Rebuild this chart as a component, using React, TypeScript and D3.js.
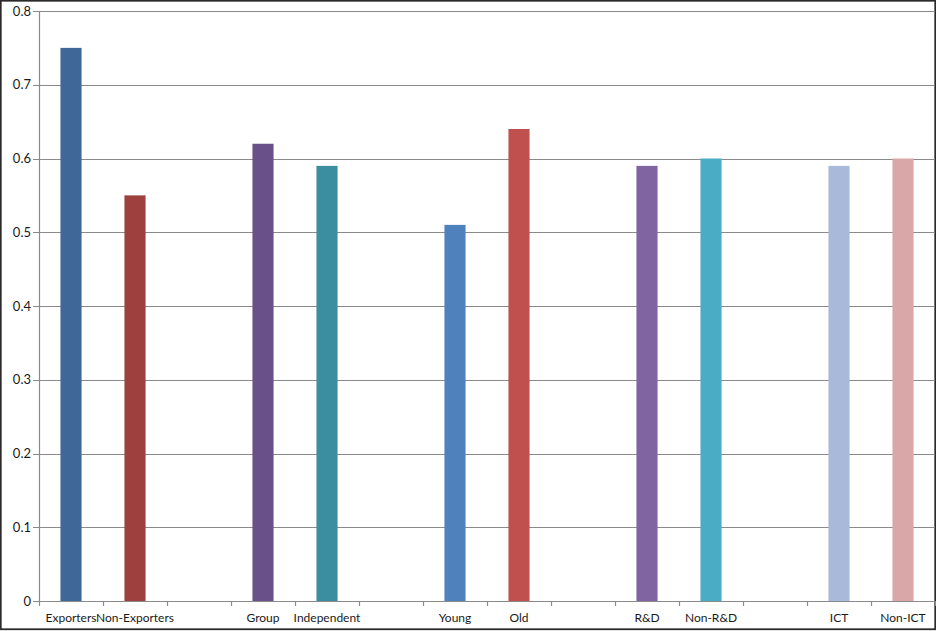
import React, { useEffect, useRef } from "react";
import * as d3 from "d3";

// one slot per category; blank slots separate the groups
const categories = [
  "Exporters", "Non-Exporters", "",
  "Group", "Independent", "",
  "Young", "Old", "",
  "R&D", "Non-R&D", "",
  "ICT", "Non-ICT",
];
const values: (number | null)[] = [
  0.75, 0.55, null,
  0.62, 0.59, null,
  0.51, 0.64, null,
  0.59, 0.6, null,
  0.59, 0.6,
];
const colors = [
  "#3f6899", "#9e413e", "none",
  "#6a5088", "#3a8ea0", "none",
  "#4f81bd", "#c0504d", "none",
  "#8064a2", "#4bacc6", "none",
  "#a9b9d9", "#d9a7a7",
];
const yTicks = [0, 0.1, 0.2, 0.3, 0.4, 0.5, 0.6, 0.7, 0.8];

const W = 936;
const H = 631;
const FONT = "Lato, 'Open Sans', sans-serif";

const App = () => {
  const svgRef = useRef<SVGSVGElement>(null);

  useEffect(() => {
    const svg = d3.select(svgRef.current);
    svg.selectAll("*").remove();

    const left = 39, right = 935, top = 11, bottom = 601;
    const idx = categories.map((_, i) => i);

    const x = d3.scaleBand<number>().domain(idx).range([left, right]).paddingInner(0.67).paddingOuter(0.335);
    const slot = d3.scaleBand<number>().domain(idx).range([left, right]);
    const y = d3.scaleLinear().domain([0, 0.8]).range([bottom, top]);

    // outer frame
    svg.append("rect")
      .attr("x", 0.75).attr("y", 0.75).attr("width", W - 1.5).attr("height", H - 2.5)
      .attr("fill", "white").attr("stroke", "#2a2a2a").attr("stroke-width", 1.8);

    // gridlines
    svg.append("g").selectAll("line")
      .data(yTicks.filter((t) => t > 0))
      .join("line")
      .attr("x1", left - 6).attr("x2", right)
      .attr("y1", (d) => Math.round(y(d)) + 0.5).attr("y2", (d) => Math.round(y(d)) + 0.5)
      .attr("stroke", "#8a8a8a").attr("stroke-width", 1.2);

    // y labels
    svg.append("g").selectAll("text")
      .data(yTicks)
      .join("text")
      .attr("x", 31).attr("y", (d) => y(d))
      .attr("dy", "0.35em")
      .attr("text-anchor", "end")
      .attr("font-family", FONT)
      .attr("font-size", 13)
      .attr("fill", "#1a1a1a")
      .text((d) => d3.format(".1~f")(d));

    // bars
    svg.append("g").selectAll("rect")
      .data(idx.filter((i) => values[i] !== null))
      .join("rect")
      .attr("x", (i) => x(i)!)
      .attr("width", x.bandwidth())
      .attr("y", (i) => y(values[i]!))
      .attr("height", (i) => bottom - y(values[i]!))
      .attr("fill", (i) => colors[i]);

    // axes lines
    svg.append("line")
      .attr("x1", left + 0.5).attr("x2", left + 0.5).attr("y1", top).attr("y2", bottom)
      .attr("stroke", "#8a8a8a").attr("stroke-width", 1.2);
    svg.append("line")
      .attr("x1", left - 6).attr("x2", right).attr("y1", bottom + 0.5).attr("y2", bottom + 0.5)
      .attr("stroke", "#8a8a8a").attr("stroke-width", 1.2);

    // x tick marks at slot boundaries
    const bounds = idx.map((i) => slot(i)!).concat([right]);
    svg.append("g").selectAll("line")
      .data(bounds)
      .join("line")
      .attr("x1", (d) => Math.round(d) + 0.5).attr("x2", (d) => Math.round(d) + 0.5)
      .attr("y1", bottom).attr("y2", bottom + 5)
      .attr("stroke", "#8a8a8a").attr("stroke-width", 1.2);

    // x labels
    svg.append("g").selectAll("text")
      .data(idx)
      .join("text")
      .attr("x", (i) => slot(i)! + slot.bandwidth() / 2)
      .attr("y", 622)
      .attr("text-anchor", "middle")
      .attr("font-family", FONT)
      .attr("font-size", 12)
      .attr("fill", "#1a1a1a")
      .text((i) => categories[i]);
  }, []);

  return (
    <svg
      ref={svgRef}
      width={W}
      height={H}
      style={{ position: "absolute", left: 0, top: 0, background: "white" }}
    ></svg>
  );
};

export default App;
